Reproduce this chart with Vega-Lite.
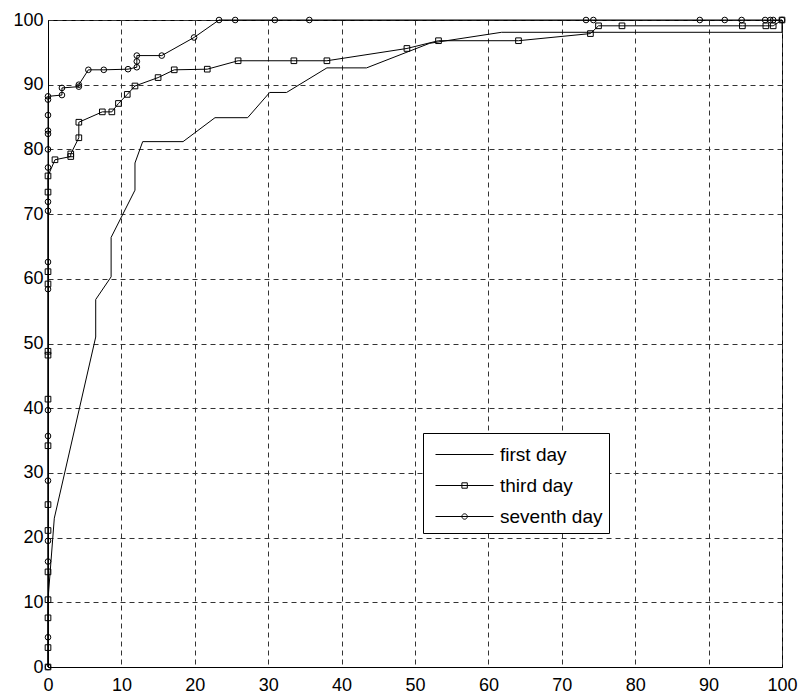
{
  "$schema": "https://vega.github.io/schema/vega-lite/v6.json",
  "width": 734,
  "height": 647,
  "autosize": {"type": "none"},
  "padding": {"left": 48, "top": 20, "right": 20, "bottom": 27},
  "background": "white",
  "config": {
    "font": "Liberation Sans",
    "view": {"stroke": "black", "strokeWidth": 1},
    "axis": {
      "domainColor": "black",
      "domainWidth": 1,
      "gridColor": "#333333",
      "gridDash": [5, 4],
      "gridWidth": 1,
      "gridOpacity": 1,
      "labelFont": "Liberation Sans",
      "labelFontSize": 18,
      "labelColor": "black",
      "ticks": false,
      "title": null
    }
  },
  "data": {
    "values": [
      {"s": "first day", "i": 1, "x": 0, "y": 0},
      {"s": "first day", "i": 2, "x": 0, "y": 10.4},
      {"s": "first day", "i": 3, "x": 0.86, "y": 23},
      {"s": "first day", "i": 4, "x": 6.5, "y": 51},
      {"s": "first day", "i": 5, "x": 6.5, "y": 56.8},
      {"s": "first day", "i": 6, "x": 8.6, "y": 60.3},
      {"s": "first day", "i": 7, "x": 8.6, "y": 66.4},
      {"s": "first day", "i": 8, "x": 11.85, "y": 73.7},
      {"s": "first day", "i": 9, "x": 11.85, "y": 77.9},
      {"s": "first day", "i": 10, "x": 12.9, "y": 81.2},
      {"s": "first day", "i": 11, "x": 18.4, "y": 81.2},
      {"s": "first day", "i": 12, "x": 22.75, "y": 84.9},
      {"s": "first day", "i": 13, "x": 27.2, "y": 84.9},
      {"s": "first day", "i": 14, "x": 30.2, "y": 88.8},
      {"s": "first day", "i": 15, "x": 32.5, "y": 88.8},
      {"s": "first day", "i": 16, "x": 38.0, "y": 92.6},
      {"s": "first day", "i": 17, "x": 43.4, "y": 92.6},
      {"s": "first day", "i": 18, "x": 52.0, "y": 96.4},
      {"s": "first day", "i": 19, "x": 61.8, "y": 98.1},
      {"s": "first day", "i": 20, "x": 100, "y": 98.1},
      {"s": "first day", "i": 21, "x": 100, "y": 100},

      {"s": "third day", "i": 1, "x": 0, "y": 0},
      {"s": "third day", "i": 2, "x": 0, "y": 3.0},
      {"s": "third day", "i": 3, "x": 0, "y": 7.6},
      {"s": "third day", "i": 4, "x": 0, "y": 10.4},
      {"s": "third day", "i": 5, "x": 0, "y": 14.7},
      {"s": "third day", "i": 6, "x": 0, "y": 21.1},
      {"s": "third day", "i": 7, "x": 0, "y": 25.1},
      {"s": "third day", "i": 8, "x": 0, "y": 34.2},
      {"s": "third day", "i": 9, "x": 0, "y": 41.4},
      {"s": "third day", "i": 10, "x": 0, "y": 48.2},
      {"s": "third day", "i": 11, "x": 0, "y": 48.8},
      {"s": "third day", "i": 12, "x": 0, "y": 59.2},
      {"s": "third day", "i": 13, "x": 0, "y": 61.1},
      {"s": "third day", "i": 14, "x": 0, "y": 73.4},
      {"s": "third day", "i": 15, "x": 0, "y": 75.9},
      {"s": "third day", "i": 16, "x": 0.95, "y": 78.4},
      {"s": "third day", "i": 17, "x": 3.1, "y": 78.9},
      {"s": "third day", "i": 18, "x": 3.1, "y": 79.3},
      {"s": "third day", "i": 19, "x": 4.2, "y": 81.8},
      {"s": "third day", "i": 20, "x": 4.2, "y": 84.2},
      {"s": "third day", "i": 21, "x": 7.4, "y": 85.8},
      {"s": "third day", "i": 22, "x": 8.7, "y": 85.8},
      {"s": "third day", "i": 23, "x": 9.6, "y": 87.1},
      {"s": "third day", "i": 24, "x": 10.8, "y": 88.5},
      {"s": "third day", "i": 25, "x": 11.85, "y": 89.8},
      {"s": "third day", "i": 26, "x": 15.0, "y": 91.1},
      {"s": "third day", "i": 27, "x": 17.2, "y": 92.3},
      {"s": "third day", "i": 28, "x": 21.7, "y": 92.4},
      {"s": "third day", "i": 29, "x": 25.9, "y": 93.7},
      {"s": "third day", "i": 30, "x": 33.5, "y": 93.7},
      {"s": "third day", "i": 31, "x": 38.0, "y": 93.7},
      {"s": "third day", "i": 32, "x": 48.9, "y": 95.6},
      {"s": "third day", "i": 33, "x": 53.2, "y": 96.8},
      {"s": "third day", "i": 34, "x": 64.1, "y": 96.8},
      {"s": "third day", "i": 35, "x": 73.9, "y": 97.9},
      {"s": "third day", "i": 36, "x": 75.0, "y": 99.1},
      {"s": "third day", "i": 37, "x": 78.2, "y": 99.1},
      {"s": "third day", "i": 38, "x": 94.6, "y": 99.1},
      {"s": "third day", "i": 39, "x": 97.8, "y": 99.1},
      {"s": "third day", "i": 40, "x": 98.8, "y": 99.1},
      {"s": "third day", "i": 41, "x": 100, "y": 100},

      {"s": "seventh day", "i": 1, "x": 0, "y": 0},
      {"s": "seventh day", "i": 2, "x": 0, "y": 4.6},
      {"s": "seventh day", "i": 3, "x": 0, "y": 16.3},
      {"s": "seventh day", "i": 4, "x": 0, "y": 19.5},
      {"s": "seventh day", "i": 5, "x": 0, "y": 28.8},
      {"s": "seventh day", "i": 6, "x": 0, "y": 35.7},
      {"s": "seventh day", "i": 7, "x": 0, "y": 39.7},
      {"s": "seventh day", "i": 8, "x": 0, "y": 58.4},
      {"s": "seventh day", "i": 9, "x": 0, "y": 62.6},
      {"s": "seventh day", "i": 10, "x": 0, "y": 70.5},
      {"s": "seventh day", "i": 11, "x": 0, "y": 71.9},
      {"s": "seventh day", "i": 12, "x": 0, "y": 77.2},
      {"s": "seventh day", "i": 13, "x": 0, "y": 80.0},
      {"s": "seventh day", "i": 14, "x": 0, "y": 82.4},
      {"s": "seventh day", "i": 15, "x": 0, "y": 82.9},
      {"s": "seventh day", "i": 16, "x": 0, "y": 85.3},
      {"s": "seventh day", "i": 17, "x": 0, "y": 87.7},
      {"s": "seventh day", "i": 18, "x": 0, "y": 88.2},
      {"s": "seventh day", "i": 19, "x": 1.9, "y": 88.4},
      {"s": "seventh day", "i": 20, "x": 1.9, "y": 89.5},
      {"s": "seventh day", "i": 21, "x": 4.2, "y": 89.7},
      {"s": "seventh day", "i": 22, "x": 4.2, "y": 90.0},
      {"s": "seventh day", "i": 23, "x": 5.5, "y": 92.3},
      {"s": "seventh day", "i": 24, "x": 7.6, "y": 92.3},
      {"s": "seventh day", "i": 25, "x": 10.9, "y": 92.4},
      {"s": "seventh day", "i": 26, "x": 12.1, "y": 92.7},
      {"s": "seventh day", "i": 27, "x": 12.1, "y": 93.6},
      {"s": "seventh day", "i": 28, "x": 12.1, "y": 94.5},
      {"s": "seventh day", "i": 29, "x": 15.5, "y": 94.5},
      {"s": "seventh day", "i": 30, "x": 19.9, "y": 97.3},
      {"s": "seventh day", "i": 31, "x": 23.3, "y": 100},
      {"s": "seventh day", "i": 32, "x": 25.5, "y": 100},
      {"s": "seventh day", "i": 33, "x": 30.9, "y": 100},
      {"s": "seventh day", "i": 34, "x": 35.6, "y": 100},
      {"s": "seventh day", "i": 35, "x": 73.3, "y": 100},
      {"s": "seventh day", "i": 36, "x": 74.3, "y": 100},
      {"s": "seventh day", "i": 37, "x": 88.8, "y": 100},
      {"s": "seventh day", "i": 38, "x": 92.2, "y": 100},
      {"s": "seventh day", "i": 39, "x": 94.5, "y": 100},
      {"s": "seventh day", "i": 40, "x": 97.7, "y": 100},
      {"s": "seventh day", "i": 41, "x": 98.4, "y": 100},
      {"s": "seventh day", "i": 42, "x": 98.8, "y": 100},
      {"s": "seventh day", "i": 43, "x": 100, "y": 100}
    ]
  },
  "encoding": {
    "x": {
      "field": "x", "type": "quantitative",
      "scale": {"domain": [0, 100], "nice": false, "zero": false},
      "axis": {"values": [0, 10, 20, 30, 40, 50, 60, 70, 80, 90, 100], "labelPadding": 9, "labelFlush": false, "labelOverlap": false}
    },
    "y": {
      "field": "y", "type": "quantitative",
      "scale": {"domain": [0, 100], "nice": false, "zero": false},
      "axis": {"values": [0, 10, 20, 30, 40, 50, 60, 70, 80, 90, 100], "labelPadding": 5, "labelFlush": false, "labelOverlap": false}
    }
  },
  "layer": [
    {
      "mark": {"type": "line", "color": "black", "strokeWidth": 1, "clip": false},
      "encoding": {
        "detail": {"field": "s"},
        "order": {"field": "i", "type": "quantitative"}
      }
    },
    {
      "transform": [{"filter": "datum.s === 'third day'"}],
      "mark": {"type": "point", "shape": "square", "filled": false, "color": "black", "strokeWidth": 1, "size": 32, "opacity": 1, "clip": false}
    },
    {
      "transform": [{"filter": "datum.s === 'seventh day'"}],
      "mark": {"type": "point", "shape": "circle", "filled": false, "color": "black", "strokeWidth": 1, "size": 32, "opacity": 1, "clip": false}
    },
    {
      "mark": {"type": "point", "filled": false, "color": "black", "opacity": 0},
      "encoding": {
        "shape": {
          "field": "s", "type": "nominal",
          "scale": {
            "domain": ["first day", "third day", "seventh day"],
            "range": [
              "M-0.6,0H3.27",
              "M-0.6,0H3.27M1.16,-0.18H1.52V0.18H1.16Z",
              "M-0.6,0H3.27M1.52,0A0.18,0.18 0 1,1 1.16,0A0.18,0.18 0 1,1 1.52,0"
            ]
          },
          "legend": {
            "title": null,
            "orient": "none",
            "legendX": 375,
            "legendY": 413,
            "padding": 6,
            "strokeColor": "black",
            "fillColor": "white",
            "symbolSize": 900,
            "symbolOpacity": 1,
            "symbolStrokeColor": "black",
            "symbolFillColor": "transparent",
            "symbolStrokeWidth": 1,
            "labelFontSize": 19,
            "labelFont": "Liberation Sans",
            "labelColor": "black",
            "labelOffset": 40,
            "rowPadding": 5
          }
        }
      }
    }
  ]
}
